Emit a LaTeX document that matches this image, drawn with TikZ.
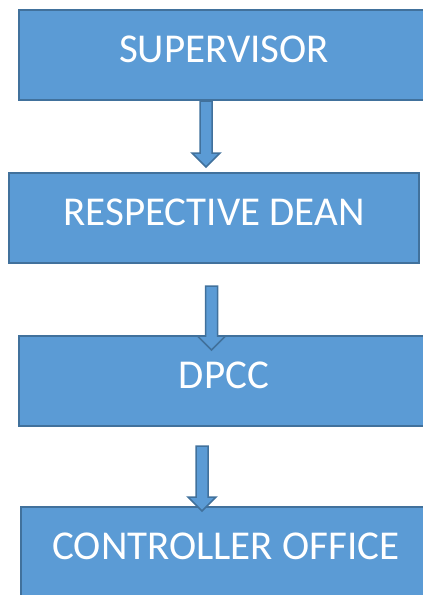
\documentclass[tikz,border=0pt]{standalone}
\usepackage{fontspec}
\setmainfont{Carlito}
\usetikzlibrary{calc}
\definecolor{boxblue}{HTML}{5B9BD5}
\definecolor{boxedge}{HTML}{41719C}
% block arrow from #1 (top of shaft) down to #2 (tip)
\newcommand{\blockarrow}[2]{%
  \draw[flowarrow] let \p1=(#1), \p2=(#2) in
    (\x1-6pt,\y1) -- (\x1-6pt,\y2+14pt) -- (\x1-14pt,\y2+14pt) -- (\x1,\y2)
    -- (\x1+14pt,\y2+14pt) -- (\x1+6pt,\y2+14pt) -- (\x1+6pt,\y1) -- cycle;}
\begin{document}
\begin{tikzpicture}[x=1pt,y=-1pt,
    office/.style={draw=boxedge,fill=boxblue,line width=2pt,anchor=north west,
      minimum width=410pt,minimum height=90pt,inner sep=0pt,
      text height=52pt,text depth=38pt,text=white,font=\fontsize{41}{41}\selectfont},
    flowarrow/.style={draw=boxedge,fill=boxblue,line width=1.5pt,line join=miter}]

	\useasboundingbox (0,0) rectangle (423,595);

	\node[office] (sup) at (18,9) {SUPERVISOR};
	\node[office] (dean) at (8,172) {RESPECTIVE DEAN};
	\node[office] (dpcc) at (18,335) {DPCC};
	\node[office] (ctrl) at (20,506) {CONTROLLER OFFICE};

	\coordinate (a1top) at ($(sup.south west)+(188,0)$);
	\coordinate (a1tip) at ($(dean.north west)+(198,-5)$);
	\coordinate (a2top) at ($(dean.south west)+(203.5,22)$);
	\coordinate (a2tip) at ($(dpcc.north west)+(193.5,15)$);
	\coordinate (a3top) at ($(dpcc.south west)+(184,19)$);
	\coordinate (a3tip) at ($(ctrl.north west)+(182,5)$);

	\blockarrow{a1top}{a1tip}
	\blockarrow{a2top}{a2tip}
	\blockarrow{a3top}{a3tip}
\end{tikzpicture}
\end{document}
